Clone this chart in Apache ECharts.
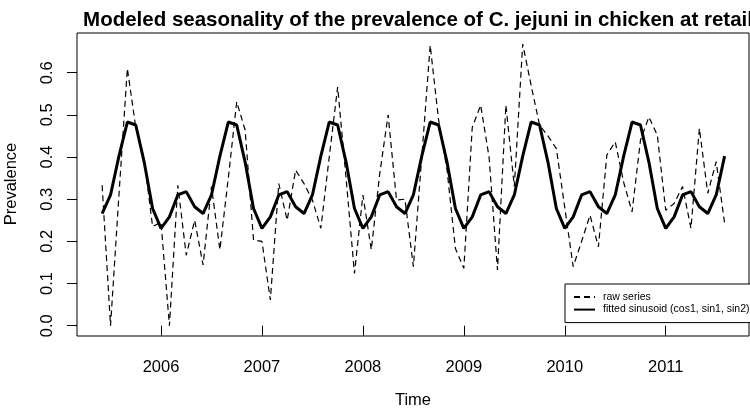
<!DOCTYPE html>
<html>
<head>
<meta charset="utf-8">
<script src="https://cdn.jsdelivr.net/npm/echarts@6/dist/echarts.min.js"></script>
<style>
html,body{margin:0;padding:0;background:#ffffff;}
#chart{width:750px;height:415px;}
</style>
</head>
<body>
<div id="chart"></div>
<script>
// Monthly series, starting June 2005
const startYear = 2005;
const startMonth = 6;

const rawSeries = [
  0.333, 0.000, 0.310, 0.610, 0.470, 0.395, 0.235,
  0.245, 0.000, 0.333, 0.167, 0.250, 0.144, 0.330, 0.180, 0.350, 0.531, 0.464, 0.203,
  0.200, 0.061, 0.337, 0.250, 0.369, 0.337, 0.298, 0.231, 0.400, 0.566, 0.350, 0.124,
  0.310, 0.180, 0.360, 0.500, 0.298, 0.300, 0.140, 0.400, 0.665, 0.488, 0.370, 0.183,
  0.136, 0.470, 0.523, 0.400, 0.132, 0.523, 0.330, 0.668, 0.570, 0.476, 0.450, 0.420,
  0.280, 0.140, 0.200, 0.262, 0.187, 0.405, 0.436, 0.340, 0.270, 0.440, 0.495, 0.452,
  0.274, 0.290, 0.330, 0.231, 0.468, 0.314, 0.389, 0.243
];

const fittedSeries = [
  0.266, 0.310, 0.402, 0.483, 0.476, 0.388, 0.278,
  0.231, 0.258, 0.310, 0.318, 0.282, 0.266, 0.310, 0.402, 0.483, 0.476, 0.388, 0.278,
  0.231, 0.258, 0.310, 0.318, 0.282, 0.266, 0.310, 0.402, 0.483, 0.476, 0.388, 0.278,
  0.231, 0.258, 0.310, 0.318, 0.282, 0.266, 0.310, 0.402, 0.483, 0.476, 0.388, 0.278,
  0.231, 0.258, 0.310, 0.318, 0.282, 0.266, 0.310, 0.402, 0.483, 0.476, 0.388, 0.278,
  0.231, 0.258, 0.310, 0.318, 0.282, 0.266, 0.310, 0.402, 0.483, 0.476, 0.388, 0.278,
  0.231, 0.258, 0.310, 0.318, 0.282, 0.266, 0.310, 0.402
];

const xTicks = [2006, 2007, 2008, 2009, 2010, 2011];
const yTicks = [0, 0.1, 0.2, 0.3, 0.4, 0.5, 0.6];
const yTickLabels = ['0.0', '0.1', '0.2', '0.3', '0.4', '0.5', '0.6'];

const titleText = 'Modeled seasonality of the prevalence of C. jejuni in chicken at retail';
const xTitle = 'Time';
const yTitle = 'Prevalence';
const legendNames = ['raw series', 'fitted sinusoid (cos1, sin1, sin2)'];

const timeOf = (i) => startYear + (startMonth - 1 + i) / 12;
const rawData = rawSeries.map((v, i) => [timeOf(i), v]);
const fittedData = fittedSeries.map((v, i) => [timeOf(i), v]);

const FONT = "'Liberation Sans', Arial, Helvetica, sans-serif";

const chart = echarts.init(document.getElementById('chart'), null, {renderer: 'canvas'});
chart.setOption({
  backgroundColor: '#ffffff',
  animation: false,
  title: {
    text: titleText,
    left: 413,
    top: 5,
    textAlign: 'center',
    textStyle: {fontFamily: FONT, fontSize: 20.5, fontWeight: 'bold', color: '#000'}
  },
  grid: {
    left: 77, right: 1, top: 33, bottom: 79,
    show: true, borderColor: '#000', borderWidth: 1, backgroundColor: 'transparent'
  },
  xAxis: {
    type: 'value',
    min: 2005.1678, max: 2011.825,
    axisLine: {show: false},
    splitLine: {show: false},
    axisTick: {show: true, customValues: xTicks, length: 10, lineStyle: {color: '#000', width: 1}},
    axisLabel: {
      customValues: xTicks, margin: 23, color: '#000', fontFamily: FONT, fontSize: 16.5,
      formatter: (v) => String(v)
    }
  },
  yAxis: {
    type: 'value',
    min: -0.0244, max: 0.6941,
    axisLine: {show: false},
    splitLine: {show: false},
    axisTick: {show: true, customValues: yTicks, length: 10, lineStyle: {color: '#000', width: 1}},
    axisLabel: {
      customValues: yTicks, margin: 21, rotate: 90, color: '#000', fontFamily: FONT, fontSize: 16.5,
      formatter: (v) => yTickLabels[yTicks.findIndex(t => Math.abs(t - v) < 1e-9)]
    }
  },
  legend: {
    orient: 'vertical',
    left: 565, top: 284,
    padding: [7, 5, 7, 8],
    itemWidth: 21, itemHeight: 12, itemGap: 0.6,
    borderColor: '#000', borderWidth: 1, borderRadius: 0,
    backgroundColor: '#fff',
    itemStyle: {opacity: 0, borderWidth: 0},
    textStyle: {fontFamily: FONT, fontSize: 10.5, color: '#000', lineHeight: 12, padding: [0, 0, 0, 3]},
    data: legendNames
  },
  graphic: [
    {
      type: 'text', x: 413, y: 400,
      style: {text: xTitle, font: '16.5px ' + FONT, fill: '#000', textAlign: 'center', textVerticalAlign: 'middle'}
    },
    {
      type: 'text', x: 11, y: 184, rotation: Math.PI / 2,
      style: {text: yTitle, font: '16.5px ' + FONT, fill: '#000', textAlign: 'center', textVerticalAlign: 'middle'}
    }
  ],
  series: [
    {
      name: legendNames[0], type: 'line', data: rawData, symbol: 'none',
      lineStyle: {color: '#000', width: 1.2, type: [6, 4]},
      itemStyle: {color: '#000'}
    },
    {
      name: legendNames[1], type: 'line', data: fittedData, symbol: 'none',
      lineStyle: {color: '#000', width: 3, type: 'solid'},
      itemStyle: {color: '#000'}
    }
  ]
});
</script>
</body>
</html>
